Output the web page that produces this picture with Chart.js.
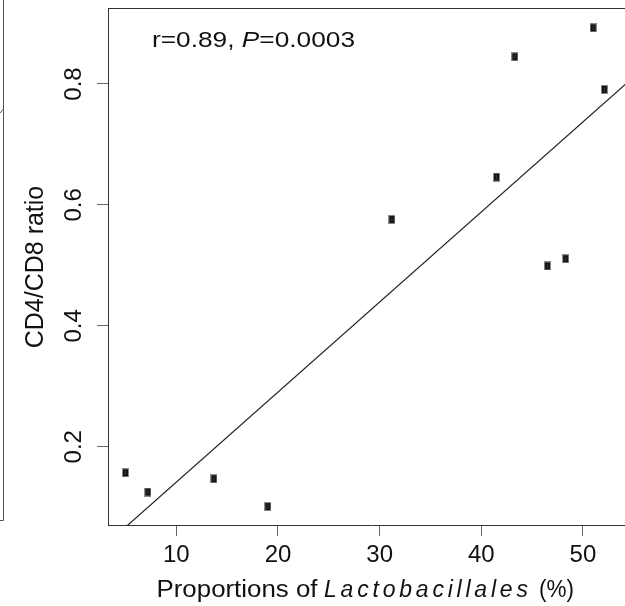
<!DOCTYPE html>
<html>
<head>
<meta charset="utf-8">
<script src="https://cdn.jsdelivr.net/npm/chart.js@4.4.0/dist/chart.umd.min.js"></script>
<style>
  html, body { margin: 0; padding: 0; background: #fff; overflow: hidden; }
  #wrap { width: 640px; height: 606px; position: relative; }
</style>
</head>
<body>
<div id="wrap"><canvas id="chart"></canvas></div>
<script>
// Valores
const lactoPct = [5.0, 7.2, 13.7, 19.0, 31.2, 41.5, 43.3, 46.5, 48.3, 51.0, 52.1];
const cd4cd8 = [0.157, 0.125, 0.147, 0.101, 0.576, 0.646, 0.845, 0.499, 0.511, 0.893, 0.791];
const xTicks = [10, 20, 30, 40, 50];
const yTicks = [0.2, 0.4, 0.6, 0.8];
const fitIntercept = -0.0076;
const fitSlope = 0.0149;
const xRange = [3.28, 55.02];
const yRange = [0.0705, 0.9257];
const statsLabel = ['r=0.89, ', 'P', '=0.0003'];
const xTitleParts = ['Proportions of', 'Lactobacillales', '(%)'];
const yTitle = 'CD4/CD8 ratio';

const FONT = '"Liberation Sans", Arial, Helvetica, sans-serif';

// Marcador quadrado (como no R)
function makeMarker() {
  const c = document.createElement('canvas');
  c.width = 7;
  c.height = 9;
  const g = c.getContext('2d');
  g.fillStyle = '#8a8a8a';
  g.fillRect(0, 0, 7, 9);
  g.fillStyle = '#141414';
  g.fillRect(1, 1, 5, 7);
  g.fillStyle = '#5a5a5a';
  g.fillRect(3, 3, 1, 1);
  g.fillRect(3, 5, 1, 1);
  return c;
}

// Textos e moldura extra
const decorPlugin = {
  id: 'decor',
  afterDraw(chart) {
    const ctx = chart.ctx;
    const area = chart.chartArea;
    ctx.save();

    // borda superior da caixa
    ctx.strokeStyle = '#333';
    ctx.lineWidth = 1;
    ctx.beginPath();
    ctx.moveTo(area.left, Math.round(area.top) + 0.5);
    ctx.lineTo(chart.width, Math.round(area.top) + 0.5);
    ctx.stroke();

    // resto do painel vizinho à esquerda
    ctx.strokeStyle = '#555';
    ctx.beginPath();
    ctx.moveTo(3.5, 0);
    ctx.lineTo(3.5, 520.5);
    ctx.lineTo(0, 520.5);
    ctx.moveTo(0, 113);
    ctx.lineTo(3.5, 109);
    ctx.stroke();

    ctx.fillStyle = '#111';
    ctx.textBaseline = 'alphabetic';
    ctx.textAlign = 'left';

    // r e P
    const fonts = [
      '22px ' + FONT,
      'italic 22px ' + FONT,
      '22px ' + FONT
    ];
    let natural = 0;
    const widths = statsLabel.map((t, i) => {
      ctx.font = fonts[i];
      const w = ctx.measureText(t).width;
      natural += w;
      return w;
    });
    const sx = 203 / natural;
    ctx.save();
    ctx.translate(152, 46.5);
    ctx.scale(sx, 1);
    let cx = 0;
    statsLabel.forEach((t, i) => {
      ctx.font = fonts[i];
      ctx.fillText(t, cx, 0);
      cx += widths[i];
    });
    ctx.restore();

    // título do eixo x
    const base = 596.7;
    ctx.font = '23px ' + FONT;
    let w = ctx.measureText(xTitleParts[0]).width;
    ctx.save();
    ctx.translate(156.5, base);
    ctx.scale(161 / w, 1);
    ctx.fillText(xTitleParts[0], 0, 0);
    ctx.restore();

    ctx.font = 'italic 23px ' + FONT;
    ctx.letterSpacing = '0px';
    const w0 = ctx.measureText(xTitleParts[1]).width;
    const ls = (204 - w0) / 14;
    ctx.letterSpacing = ls.toFixed(2) + 'px';
    ctx.fillText(xTitleParts[1], 324, base);
    ctx.letterSpacing = '0px';

    ctx.font = '23px ' + FONT;
    w = ctx.measureText(xTitleParts[2]).width;
    ctx.save();
    ctx.translate(539, base);
    ctx.scale(35 / w, 1);
    ctx.fillText(xTitleParts[2], 0, 0);
    ctx.restore();

    // título do eixo y
    ctx.save();
    ctx.translate(42.5, 267);
    ctx.rotate(-Math.PI / 2);
    ctx.font = '25px ' + FONT;
    ctx.textAlign = 'center';
    ctx.fillText(yTitle, 0, 0);
    ctx.restore();

    ctx.restore();
  }
};

const tickFont = { family: FONT, size: 24 };

new Chart(document.getElementById('chart'), {
  type: 'scatter',
  data: {
    datasets: [
      {
        label: 'amostras',
        data: lactoPct.map((x, i) => ({ x: x, y: cd4cd8[i] })),
        pointStyle: makeMarker(),
        pointRadius: 4,
        order: 0
      },
      {
        type: 'line',
        label: 'ajuste',
        data: xRange.map(x => ({ x: x, y: fitIntercept + fitSlope * x })),
        borderColor: '#222',
        borderWidth: 1.2,
        pointRadius: 0,
        fill: false,
        tension: 0,
        order: 1
      }
    ]
  },
  options: {
    responsive: true,
    maintainAspectRatio: false,
    animation: false,
    layout: { padding: { left: 0, top: 8, right: 6, bottom: 0 } },
    plugins: {
      legend: { display: false },
      tooltip: { enabled: false }
    },
    scales: {
      x: {
        type: 'linear',
        min: xRange[0],
        max: xRange[1],
        afterBuildTicks: s => { s.ticks = xTicks.map(v => ({ value: v })); },
        afterFit: s => {
          s.height = 81;
          s.paddingLeft = 0;
          s.paddingRight = 0;
        },
        grid: { drawOnChartArea: false, drawTicks: true, tickLength: 11, color: '#666' },
        border: { display: true, color: '#333', width: 1 },
        ticks: {
          font: tickFont,
          color: '#111',
          padding: 5,
          autoSkip: false,
          maxRotation: 0,
          callback: v => String(v)
        }
      },
      y: {
        type: 'linear',
        min: yRange[0],
        max: yRange[1],
        afterBuildTicks: s => { s.ticks = yTicks.map(v => ({ value: v })); },
        afterFit: s => {
          s.width = 108;
          s.paddingTop = 0;
          s.paddingBottom = 0;
        },
        grid: { drawOnChartArea: false, drawTicks: true, tickLength: 11, color: '#666' },
        border: { display: true, color: '#333', width: 1 },
        ticks: {
          font: tickFont,
          color: '#111',
          padding: 6,
          minRotation: 90,
          maxRotation: 90,
          crossAlign: 'center',
          autoSkip: false,
          callback: v => v.toFixed(1)
        }
      }
    }
  },
  plugins: [decorPlugin]
});
</script>
</body>
</html>
